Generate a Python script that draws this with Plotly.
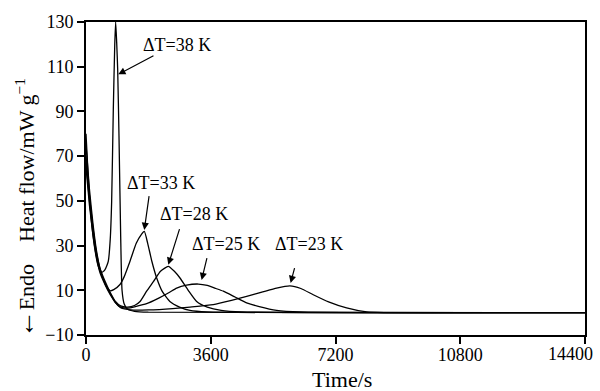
import plotly.graph_objects as go

# Time (s) and heat flow (mW/g) for each supercooling ΔT
t38 = [0, 60, 150, 250, 350, 450, 540, 600, 644, 700, 740, 788, 830, 856, 885, 914, 952, 1000, 1040, 1100, 1200, 1400, 1800, 14400]
v38 = [80, 62, 42, 29, 21, 18, 19, 21, 23, 33, 49.5, 91, 120, 130, 121, 109, 79, 35, 10, 4, 1.5, 0.6, 0.2, 0]

t33 = [0, 100, 200, 300, 400, 500, 600, 692, 800, 981, 1100, 1270, 1450, 1600, 1683, 1780, 1900, 2040, 2200, 2420, 2700, 3000, 3500, 14400]
v33 = [75, 55, 40, 28, 20, 15, 11.5, 9.8, 10.3, 12.6, 16, 23, 31, 35, 36.3, 31, 23, 15.5, 9.5, 5, 2.5, 1, 0.3, 0]

t28 = [0, 100, 200, 300, 400, 550, 700, 850, 1000, 1200, 1400, 1560, 1750, 1950, 2150, 2375, 2550, 2712, 2950, 3193, 3500, 3900, 4500, 14400]
v28 = [70, 52, 38, 27, 20, 14, 9, 5, 3, 2.5, 3.2, 5, 9.6, 14, 18.5, 20.7, 18.5, 15.5, 10, 5, 2.5, 1, 0.3, 0]

t25 = [0, 100, 200, 300, 400, 550, 700, 850, 1000, 1200, 1450, 1750, 2100, 2400, 2616, 2900, 3240, 3500, 3750, 3962, 4300, 4635, 5000, 5500, 6200, 14400]
v25 = [68, 50, 37, 26, 19, 13, 8.5, 4.5, 2.5, 2, 2.8, 4, 6.5, 9, 11, 12.3, 12.8, 12.2, 10.8, 9.6, 7, 4.4, 2.7, 1, 0.3, 0]

t23 = [0, 100, 200, 300, 400, 550, 700, 850, 1000, 1300, 1800, 2500, 3000, 3673, 4200, 4636, 5100, 5500, 5885, 6200, 6558, 7000, 7520, 8100, 8600, 14400]
v23 = [65, 48, 35, 25, 18, 12.5, 8, 4.5, 2.2, 1.2, 1.2, 1.8, 2.5, 3.6, 5.5, 7.3, 9.3, 11, 12, 10.8, 8, 4.8, 2.1, 0.3, 0, 0]

labels = ["ΔT=38 K", "ΔT=33 K", "ΔT=28 K", "ΔT=25 K", "ΔT=23 K"]
label_pos = [(2625, 119.8), (2178, 58), (3116, 44), (4053, 30.7), (6434, 30.7)]
arrow_tail = [(1990, 115.3), (1826, 52.8), (2712, 38), (3500, 25.1), (6030, 20.6)]
arrow_head = [(932, 106.6), (1682, 37), (2375, 21.4), (3337, 14.6), (5905, 13.3)]

x_ticks = [0, 3600, 7200, 10800, 14400]
y_ticks = [-10, 10, 30, 50, 70, 90, 110, 130]

x_title = "Time/s"
y_title = ("<span style='font-size:28px'>←</span>Endo\u00a0\u00a0\u00a0\u00a0"
           "Heat flow/mW g<sup>−1</sup>")

FONT = "Times New Roman"

fig = go.Figure()
for t, v, name in [(t38, v38, labels[0]), (t33, v33, labels[1]), (t28, v28, labels[2]),
                   (t25, v25, labels[3]), (t23, v23, labels[4])]:
    fig.add_trace(go.Scatter(x=t, y=v, mode="lines", name=name,
                             line=dict(color="black", width=1.3, shape="spline", smoothing=0.5),
                             showlegend=False))

for lab, (lx, ly) in zip(labels, label_pos):
    fig.add_annotation(x=lx, y=ly, text=lab, showarrow=False,
                       font=dict(family=FONT, size=18, color="black"))
for (tx, ty), (hx, hy) in zip(arrow_tail, arrow_head):
    fig.add_annotation(x=hx, y=hy, ax=tx, ay=ty, xref="x", yref="y", axref="x", ayref="y",
                       text="", showarrow=True, arrowhead=2, arrowsize=1.2, arrowwidth=1.2,
                       arrowcolor="black")

# last x tick label, shifted left to stay inside the picture (as in the reference)
fig.add_annotation(x=1, y=0, xref="paper", yref="paper", xanchor="right", yanchor="top",
                   xshift=10, yshift=-7, text=str(x_ticks[-1]), showarrow=False,
                   font=dict(family=FONT, size=18, color="black"))

# axis titles
fig.add_annotation(x=0.513, y=-0.1424, xref="paper", yref="paper", xanchor="center",
                   yanchor="middle", text=x_title, showarrow=False,
                   font=dict(family=FONT, size=22, color="black"))
fig.add_annotation(x=-0.124, y=0.405, xref="paper", yref="paper", xanchor="center",
                   yanchor="middle", text=y_title, textangle=-90, showarrow=False,
                   font=dict(family=FONT, size=22, color="black"))

fig.update_layout(
    width=600, height=391,
    margin=dict(l=86, r=15, t=19, b=56),
    paper_bgcolor="white", plot_bgcolor="white",
    font=dict(family=FONT, size=18, color="black"),
)
fig.update_xaxes(range=[0, 14400], tickvals=x_ticks,
                 ticktext=[str(v) for v in x_ticks[:-1]] + [""],
                 showgrid=False, zeroline=False, showline=True, linecolor="black", linewidth=2,
                 mirror=True, ticks="outside", ticklen=7, tickwidth=1.5, tickcolor="black",
                 ticklabelstandoff=-5)
fig.update_yaxes(range=[-10, 130], tickvals=y_ticks,
                 showgrid=False, zeroline=False, showline=True, linecolor="black", linewidth=2,
                 mirror=True, ticks="outside", ticklen=7, tickwidth=1.5, tickcolor="black")

fig.write_html("out.html")
